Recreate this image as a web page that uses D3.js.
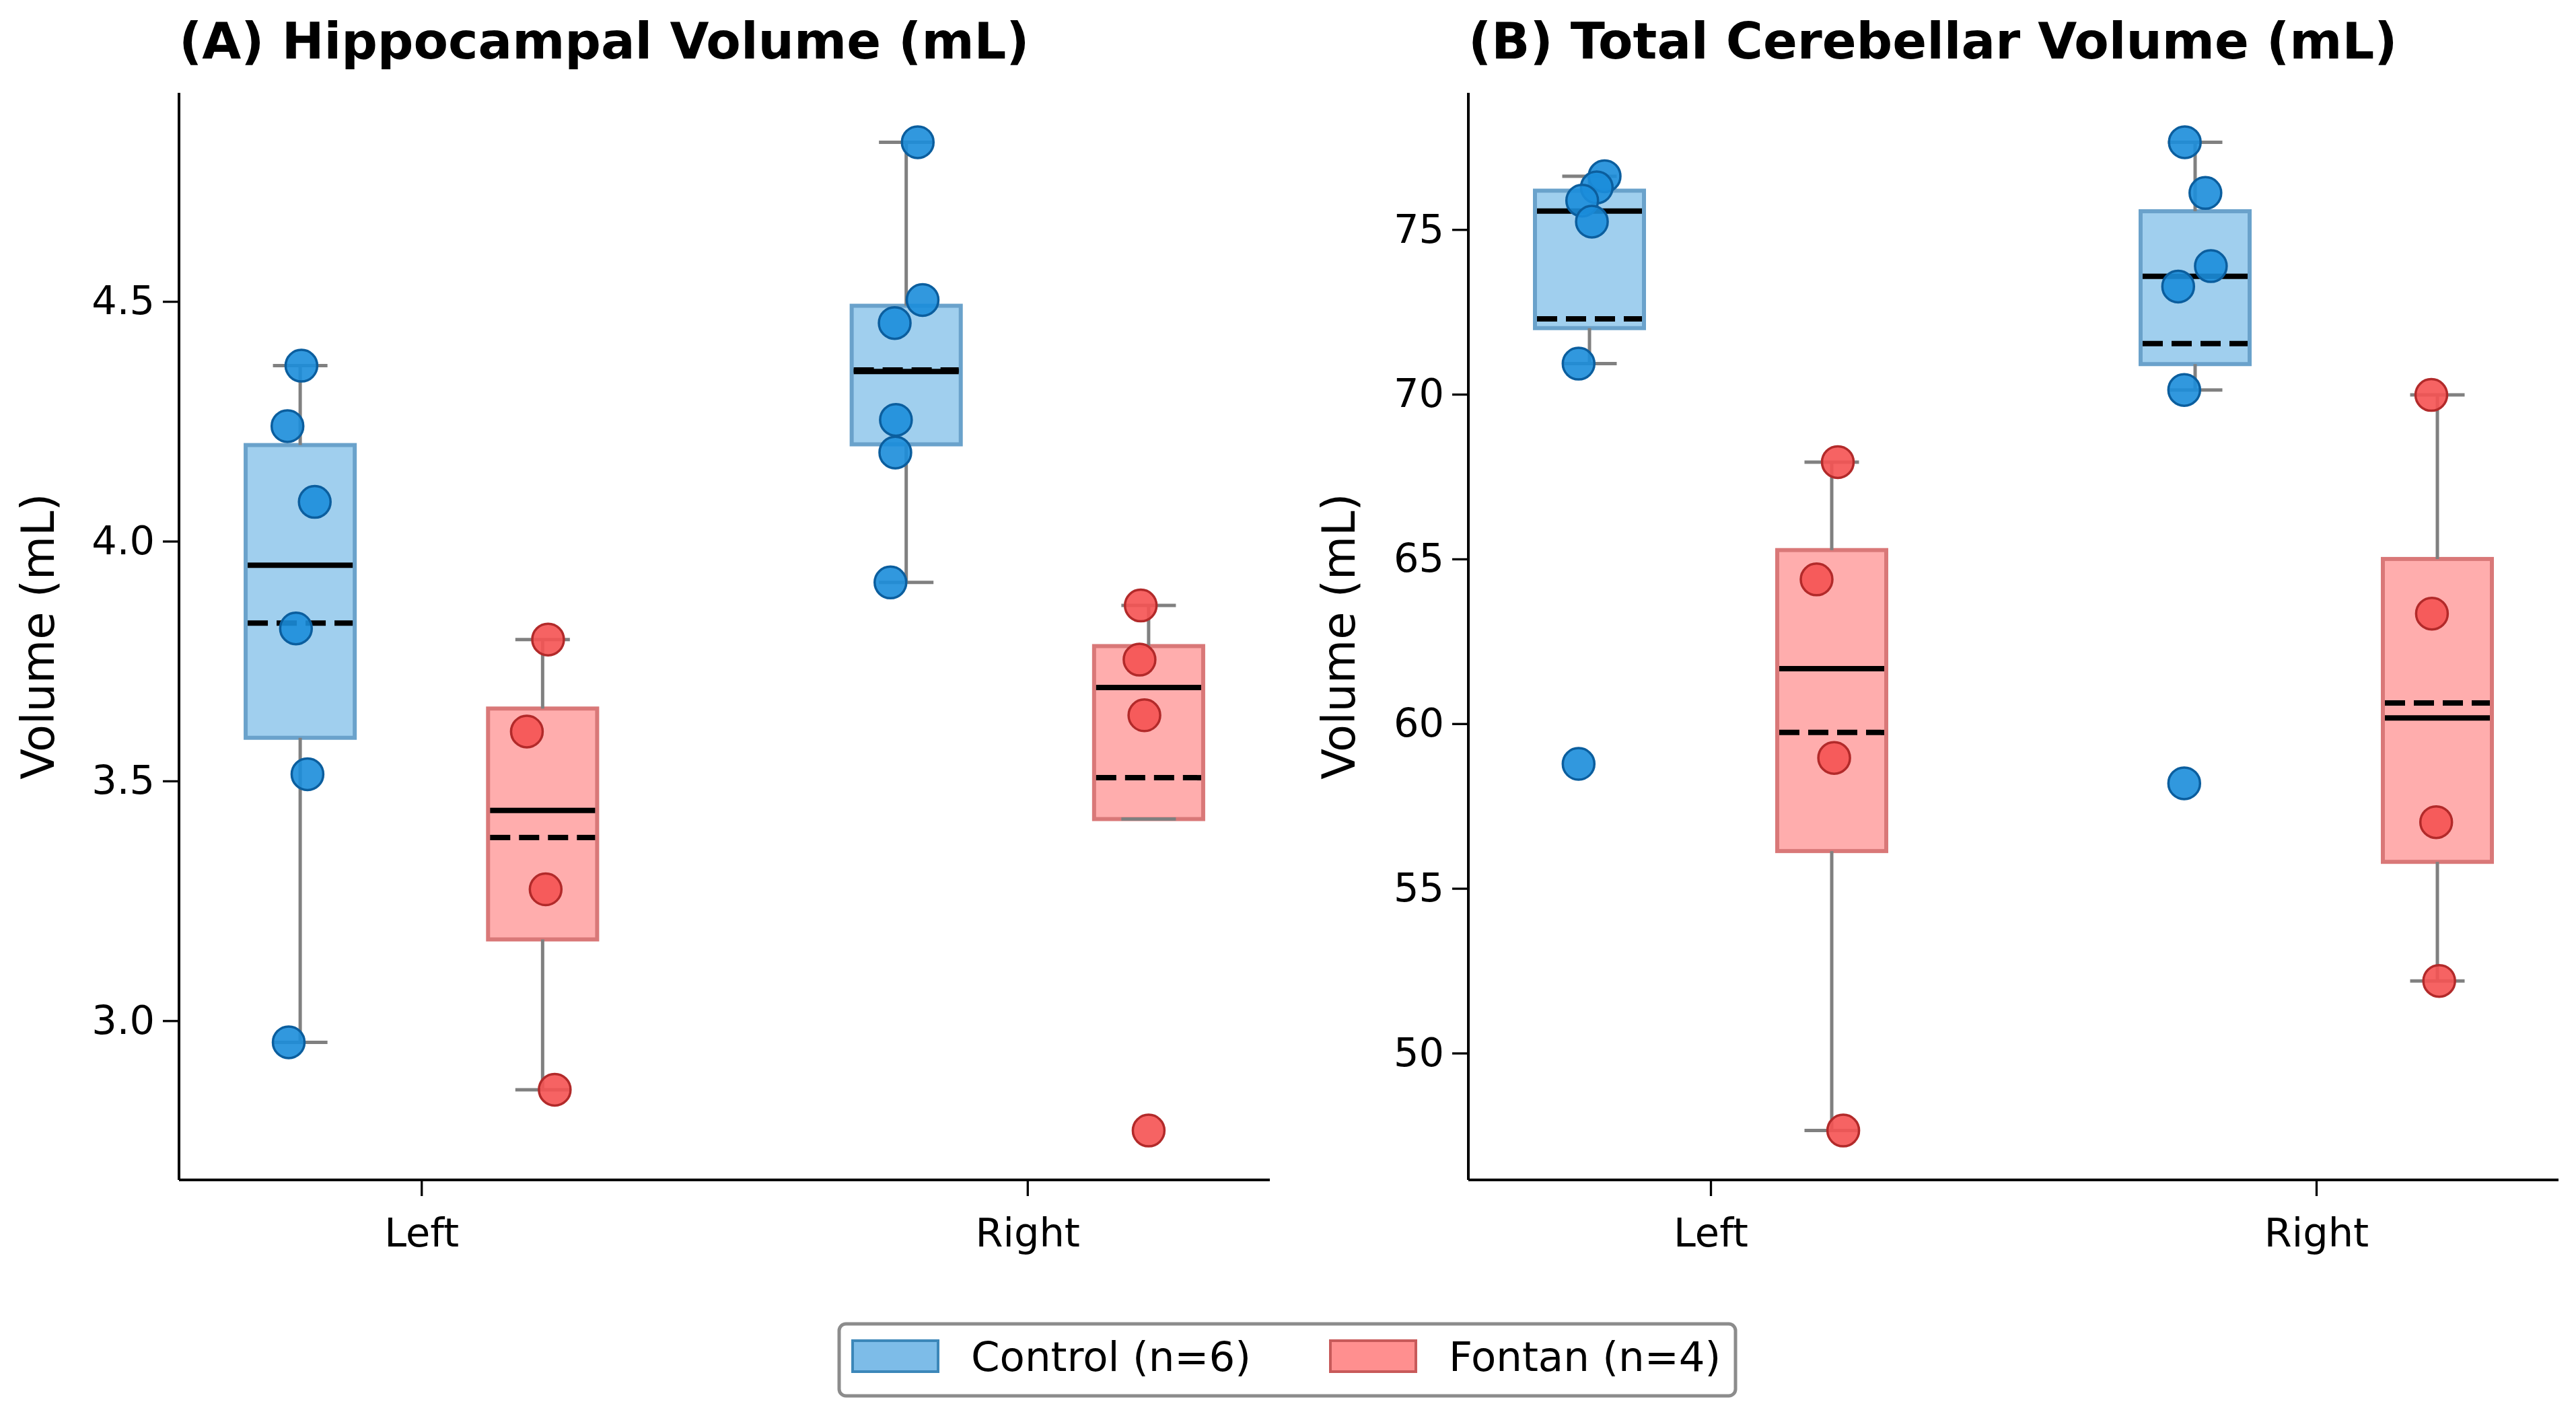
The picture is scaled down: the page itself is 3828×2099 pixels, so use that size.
<!DOCTYPE html>
<html>
<head>
<meta charset="utf-8">
<script src="https://cdn.jsdelivr.net/npm/d3@7"></script>
<style>
  body { margin: 0; background: #ffffff; }
  svg { display: block; font-family: "DejaVu Sans", sans-serif; }
</style>
</head>
<body>
<svg id="chart" width="3828" height="2099"></svg>
<script>
// Hippocampal / cerebellar volume box plots, Control vs Fontan.

var regions = ["Left", "Right"];
var groupNames = ["Control (n=6)", "Fontan (n=4)"];

// (A) Hippocampal volume, mL
var hippoControlLeft  = [4.366, 4.240, 4.082, 3.818, 3.514, 2.955];
var hippoControlRight = [4.832, 4.503, 4.455, 4.253, 4.185, 3.914];
var hippoFontanLeft   = [3.795, 3.603, 3.274, 2.856];
var hippoFontanRight  = [3.866, 3.753, 3.637, 2.771];
var hippoTicks = [3.0, 3.5, 4.0, 4.5];

// (B) Total cerebellar volume, mL
var cereControlLeft  = [76.62, 76.28, 75.88, 75.24, 70.93, 58.78];
var cereControlRight = [77.65, 76.11, 73.89, 73.27, 70.13, 58.19];
var cereFontanLeft   = [67.94, 64.38, 58.96, 47.65];
var cereFontanRight  = [69.98, 63.34, 57.01, 52.19];
var cereTicks = [50, 55, 60, 65, 70, 75];

// horizontal jitter of the dots (in category units)
var hippoJitterControlLeft  = [0.002, -0.021, 0.024, -0.007, 0.012, -0.019];
var hippoJitterControlRight = [0.019, 0.027, -0.019, -0.017, -0.018, -0.026];
var hippoJitterFontanLeft   = [0.009, -0.026, 0.005, 0.020];
var hippoJitterFontanRight  = [-0.013, -0.015, -0.007, 0.000];
var cereJitterControlLeft   = [0.025, 0.012, -0.012, 0.004, -0.018, -0.018];
var cereJitterControlRight  = [-0.017, 0.017, 0.026, -0.028, -0.018, -0.018];
var cereJitterFontanLeft    = [0.010, -0.025, 0.004, 0.019];
var cereJitterFontanRight   = [-0.010, -0.009, -0.002, 0.003];

var colors = {
    control: { fill: "#a0cfee", edge: "#6aa2cb", dot: "#1b8dda", dotEdge: "#0b5e9e", legFill: "#7dbce8", legEdge: "#3c87b9" },
    fontan:  { fill: "#ffadad", edge: "#d97878", dot: "#f55252", dotEdge: "#b22a2a", legFill: "#ff8f8f", legEdge: "#c85a5a" }
};

var svg = d3.select("#chart");
svg.append("rect").attr("width", 3828).attr("height", 2099).attr("fill", "#ffffff");

var plotTop = 138, plotBottom = 1754;
var offset = 0.2, boxW = 0.18;

// Same numbers matplotlib's boxplot uses (linear quantiles, 1.5 IQR whiskers).
function boxStats (values) {
    var s = values.slice().sort(d3.ascending);
    var q1 = d3.quantile(s, 0.25), q3 = d3.quantile(s, 0.75);
    var iqr = q3 - q1;
    var lo = s.filter(function (v) { return v >= q1 - 1.5 * iqr; });
    var hi = s.filter(function (v) { return v <= q3 + 1.5 * iqr; });
    var wlo = (lo.length == 0 || d3.min(lo) > q1) ? q1 : d3.min(lo);
    var whi = (hi.length == 0 || d3.max(hi) < q3) ? q3 : d3.max(hi);
    return { q1: q1, q3: q3, med: d3.median(s), mean: d3.mean(s), wlo: wlo, whi: whi };
}

function drawPanel (p) {
    var all = [].concat(p.controlLeft, p.controlRight, p.fontanLeft, p.fontanRight);
    var ext = d3.extent(all);
    var pad = (ext[1] - ext[0]) * 0.05;
    var y = d3.scaleLinear().domain([ext[0] - pad, ext[1] + pad]).range([plotBottom, plotTop]);
    var x = d3.scaleLinear().domain([-0.4, 1.4]).range([p.left, p.right]);
    var g = svg.append("g");

    var sets = [
        { key: "control", pos: 0 - offset, vals: p.controlLeft,  jit: p.jitControlLeft },
        { key: "fontan",  pos: 0 + offset, vals: p.fontanLeft,   jit: p.jitFontanLeft },
        { key: "control", pos: 1 - offset, vals: p.controlRight, jit: p.jitControlRight },
        { key: "fontan",  pos: 1 + offset, vals: p.fontanRight,  jit: p.jitFontanRight }
    ];

    sets.forEach(function (d) {
        var st = boxStats(d.vals);
        var c = colors[d.key];
        var x0 = x(d.pos - boxW / 2), x1 = x(d.pos + boxW / 2), xc = x(d.pos);
        var cw = (x1 - x0) / 4;
        g.append("rect")
            .attr("x", x0).attr("y", y(st.q3))
            .attr("width", x1 - x0).attr("height", y(st.q1) - y(st.q3))
            .attr("fill", c.fill).attr("stroke", c.edge).attr("stroke-width", 6);
        // whiskers and caps
        [[st.q3, st.whi], [st.q1, st.wlo]].forEach(function (w) {
            g.append("line").attr("x1", xc).attr("x2", xc).attr("y1", y(w[0])).attr("y2", y(w[1]))
                .attr("stroke", "#808080").attr("stroke-width", 5);
            g.append("line").attr("x1", xc - cw).attr("x2", xc + cw).attr("y1", y(w[1])).attr("y2", y(w[1]))
                .attr("stroke", "#808080").attr("stroke-width", 5);
        });
        // mean (dashed) then median
        g.append("line").attr("x1", x0 + 3).attr("x2", x1 - 3).attr("y1", y(st.mean)).attr("y2", y(st.mean))
            .attr("stroke", "#000").attr("stroke-width", 8).attr("stroke-dasharray", "30,13");
        g.append("line").attr("x1", x0 + 3).attr("x2", x1 - 3).attr("y1", y(st.med)).attr("y2", y(st.med))
            .attr("stroke", "#000").attr("stroke-width", 8);
    });

    // dots on top
    sets.forEach(function (d) {
        var c = colors[d.key];
        g.selectAll(null).data(d.vals).enter().append("circle")
            .attr("cx", function (v, i) { return x(d.pos + d.jit[i]); })
            .attr("cy", function (v) { return y(v); })
            .attr("r", 23.5)
            .attr("fill", c.dot).attr("fill-opacity", 0.9)
            .attr("stroke", c.dotEdge).attr("stroke-width", 3.5);
    });

    // axes
    var yAxis = d3.axisLeft(y).tickValues(p.ticks).tickFormat(p.fmt).tickSize(24).tickPadding(12);
    var ya = g.append("g").attr("transform", "translate(" + p.left + ",0)").call(yAxis);
    var xAxis = d3.axisBottom(x).tickValues([0, 1]).tickFormat(function (d) { return regions[d]; })
        .tickSize(24).tickPadding(33);
    var xa = g.append("g").attr("transform", "translate(0," + plotBottom + ")").call(xAxis);
    [ya, xa].forEach(function (a) {
        a.select(".domain").attr("stroke", "#000").attr("stroke-width", 4)
            .attr("d", a === ya ? "M0," + plotTop + "V" + plotBottom : "M" + p.left + ",0H" + p.right);
        a.selectAll(".tick line").attr("stroke", "#000").attr("stroke-width", 3.3);
        a.selectAll(".tick text").attr("fill", "#000").style("font-size", "59px")
            .style("font-family", "'DejaVu Sans', sans-serif");
    });

    g.append("text")
        .attr("transform", "translate(" + p.labelX + "," + ((plotTop + plotBottom) / 2) + ") rotate(-90)")
        .attr("text-anchor", "middle")
        .style("font-size", "67px")
        .text("Volume (mL)");

    g.append("text")
        .attr("x", p.left).attr("y", 87)
        .style("font-size", "75px").style("font-weight", "bold")
        .text(p.title);
}

drawPanel({
    title: "(A) Hippocampal Volume (mL)", left: 266, right: 1887, labelX: 80,
    controlLeft: hippoControlLeft, controlRight: hippoControlRight,
    fontanLeft: hippoFontanLeft, fontanRight: hippoFontanRight,
    jitControlLeft: hippoJitterControlLeft, jitControlRight: hippoJitterControlRight,
    jitFontanLeft: hippoJitterFontanLeft, jitFontanRight: hippoJitterFontanRight,
    ticks: hippoTicks, fmt: d3.format(".1f")
});

drawPanel({
    title: "(B) Total Cerebellar Volume (mL)", left: 2182, right: 3802, labelX: 2013,
    controlLeft: cereControlLeft, controlRight: cereControlRight,
    fontanLeft: cereFontanLeft, fontanRight: cereFontanRight,
    jitControlLeft: cereJitterControlLeft, jitControlRight: cereJitterControlRight,
    jitFontanLeft: cereJitterFontanLeft, jitFontanRight: cereJitterFontanRight,
    ticks: cereTicks, fmt: d3.format("d")
});

// legend
var leg = svg.append("g");
leg.append("rect").attr("x", 1247).attr("y", 1968).attr("width", 1332).attr("height", 107)
    .attr("rx", 10).attr("fill", "#fff").attr("stroke", "#8c8c8c").attr("stroke-width", 5);
var legX = [1267, 1977];
["control", "fontan"].forEach(function (k, i) {
    leg.append("rect").attr("x", legX[i]).attr("y", 1993).attr("width", 127).attr("height", 46)
        .attr("fill", colors[k].legFill).attr("stroke", colors[k].legEdge).attr("stroke-width", 4);
    leg.append("text").attr("x", legX[i] + 176).attr("y", 2038)
        .style("font-size", "61px").text(groupNames[i]);
});
</script>
</body>
</html>
